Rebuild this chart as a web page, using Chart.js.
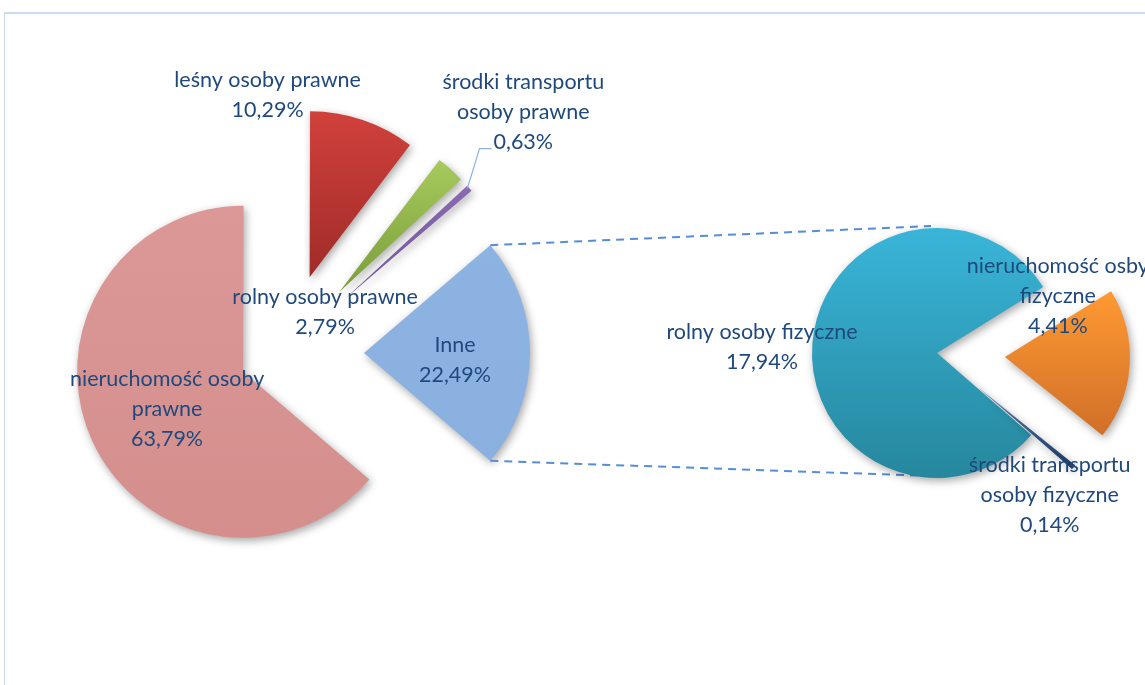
<!DOCTYPE html>
<html><head><meta charset="utf-8">
<script src="https://cdn.jsdelivr.net/npm/chart.js@4.4.0/dist/chart.umd.min.js"></script>
<style>
html,body{margin:0;padding:0;background:#fff;width:1145px;height:685px;overflow:hidden;}
#frame{position:absolute;left:4px;top:12px;width:1300px;height:800px;border-top:2px solid #C9DCF2;border-left:1px solid #CDD7E3;}
canvas{position:absolute;left:0;top:0;}
</style></head><body>
<div id="frame"></div>
<canvas id="leftPie" width="1145" height="685"></canvas>
<canvas id="rightPie" width="1145" height="685"></canvas>
<script>
// ---- data ----
const mainCategories = ["nieruchomość osoby\nprawne", "leśny osoby prawne", "rolny osoby prawne", "środki transportu\nosoby prawne", "Inne"];
const mainValues = [63.79, 10.29, 2.79, 0.63, 22.49];
const subCategories = ["rolny osoby fizyczne", "nieruchomość osby\nfizyczne", "środki transportu\nosoby fizyczne"];
const subValues = [17.94, 4.41, 0.14];

// ---- styles ----
const mainColors = [["#DB9896", "#D48F8D"], ["#D1413C", "#A02B28"], ["#A6CA5C", "#7A9E3A"], ["#8A6BB2", "#6F529A"], ["#8DB3E2", "#8AB0DF"]];
const subColors = [["#39B5D9", "#26879D"], ["#FF9933", "#D06F28"], ["#5A7DAD", "#1A3860"]];
const mainExplode = [45, 80, 82, 82, 80];
const subExplode = [0, 68, 53];
const mainLabelNudge = [[-76, 37], [-42, -182], [-14, 20], [178, -186], [91, 7]];
const subLabelNudge = [[-175, -6], [53, -61], [72, 108]];
const LABEL_FONT = "21.5px Lato";
const LABEL_COLOR = "#1F497D";
const LINE_H = 30;

const fmt = v => v.toFixed(2).replace('.', ',') + '%';

const explodePlugin = {
  id: 'explode',
  afterDatasetUpdate(chart, args) {
    const cfg = chart.options.plugins.explode;
    const ctx = chart.ctx;
    args.meta.data.forEach((arc, i) => {
      const d = cfg.distances[i] || 0;
      const mid = (arc.startAngle + arc.endAngle) / 2;
      arc.x = arc.x + Math.cos(mid) * d;
      arc.y = arc.y + Math.sin(mid) * d;
      let ymin = arc.y, ymax = arc.y;
      for (let k = 0; k <= 40; k++) {
        const a = arc.startAngle + (arc.endAngle - arc.startAngle) * k / 40;
        const yy = arc.y + Math.sin(a) * arc.outerRadius;
        ymin = Math.min(ymin, yy); ymax = Math.max(ymax, yy);
      }
      const g = ctx.createLinearGradient(0, ymin, 0, ymax);
      g.addColorStop(0, cfg.colors[i][0]);
      g.addColorStop(1, cfg.colors[i][1]);
      arc.options = Object.assign({}, arc.options, {backgroundColor: g});
    });
  }
};

const shadowPlugin = {
  id: 'softShadow',
  beforeDatasetsDraw(chart) {
    const ctx = chart.ctx;
    ctx.save();
    ctx.shadowColor = 'rgba(0,0,0,0.35)';
    ctx.shadowBlur = 8;
    ctx.shadowOffsetX = 2;
    ctx.shadowOffsetY = 3;
  },
  afterDatasetsDraw(chart) { chart.ctx.restore(); }
};

function drawLabels(chart, cats, vals, nudges) {
  const ctx = chart.ctx;
  const arcs = chart.getDatasetMeta(0).data;
  const out = [];
  ctx.save();
  ctx.font = LABEL_FONT;
  ctx.fillStyle = LABEL_COLOR;
  ctx.textAlign = 'center';
  ctx.textBaseline = 'middle';
  arcs.forEach((arc, i) => {
    const lines = cats[i].split('\n').concat([fmt(vals[i])]);
    const cx = arc.x + nudges[i][0];
    const cy = arc.y + nudges[i][1];
    const y0 = cy - (lines.length - 1) * LINE_H / 2;
    lines.forEach((t, j) => ctx.fillText(t, cx, y0 + j * LINE_H));
    out.push({cx, y0, lines, w: lines.map(t => ctx.measureText(t).width)});
  });
  ctx.restore();
  return out;
}

const mainTotal = mainValues.reduce((a, b) => a + b, 0);
const beforeOther = mainValues.slice(0, 4).reduce((a, b) => a + b, 0);
const mainRotation = 90 - (beforeOther + mainValues[4] / 2) / mainTotal * 360;

const leftLabels = {
  id: 'leftLabels',
  afterDraw(chart) {
    const info = drawLabels(chart, mainCategories, mainValues, mainLabelNudge);
    const arc = chart.getDatasetMeta(0).data[3];
    const mid = (arc.startAngle + arc.endAngle) / 2;
    const tx = arc.x + Math.cos(mid) * arc.outerRadius;
    const ty = arc.y + Math.sin(mid) * arc.outerRadius;
    const L = info[3];
    const last = L.lines.length - 1;
    const left = L.cx - L.w[last] / 2;
    const ly = L.y0 + last * LINE_H + 6;
    const ctx = chart.ctx;
    ctx.save();
    ctx.strokeStyle = '#8DB3E2';
    ctx.lineWidth = 1.2;
    ctx.beginPath();
    ctx.moveTo(tx - 2, ty);
    ctx.lineTo(left - 14, ly);
    ctx.lineTo(left - 2, ly);
    ctx.stroke();
    ctx.restore();
  }
};

const baseOpts = {
  responsive: false,
  animation: false,
  events: [],
};

const leftChart = new Chart(document.getElementById('leftPie'), {
  type: 'pie',
  data: {
    labels: mainCategories,
    datasets: [{data: mainValues, borderWidth: 0, radius: 166, clip: false, backgroundColor: mainColors.map(c => c[0])}]
  },
  options: Object.assign({}, baseOpts, {
    rotation: mainRotation,
    layout: {padding: {left: 0, right: 577, top: 21, bottom: 0}},
    plugins: {legend: {display: false}, tooltip: {enabled: false}, explode: {distances: mainExplode, colors: mainColors}}
  }),
  plugins: [explodePlugin, shadowPlugin, leftLabels]
});

const connectors = {
  id: 'connectors',
  beforeDatasetsDraw(chart) {
    const other = leftChart.getDatasetMeta(0).data[4];
    const me = chart.getDatasetMeta(0).data[0];
    const r = other.outerRadius;
    const p1 = [other.x + Math.cos(other.startAngle) * r, other.y + Math.sin(other.startAngle) * r];
    const p2 = [other.x + Math.cos(other.endAngle) * r, other.y + Math.sin(other.endAngle) * r];
    const top = [me.x, me.y - me.outerRadius];
    const bot = [me.x, me.y + me.outerRadius];
    const ctx = chart.ctx;
    ctx.save();
    ctx.strokeStyle = '#558ED5';
    ctx.lineWidth = 2;
    ctx.setLineDash([8, 6]);
    ctx.beginPath();
    ctx.moveTo(p1[0], p1[1]); ctx.lineTo(top[0] - 6, top[1] - 2);
    ctx.moveTo(p2[0], p2[1]); ctx.lineTo(bot[0] - 6, bot[1] - 2);
    ctx.stroke();
    ctx.restore();
  }
};

const rightLabels = {
  id: 'rightLabels',
  afterDraw(chart) { drawLabels(chart, subCategories, subValues, subLabelNudge); }
};

const rightChart = new Chart(document.getElementById('rightPie'), {
  type: 'pie',
  data: {
    labels: subCategories,
    datasets: [{data: subValues, borderWidth: 0, radius: 125, clip: false, backgroundColor: subColors.map(c => c[0])}]
  },
  options: Object.assign({}, baseOpts, {
    rotation: 131,
    layout: {padding: {left: 729, right: 0, top: 21, bottom: 0}},
    plugins: {legend: {display: false}, tooltip: {enabled: false}, explode: {distances: subExplode, colors: subColors}}
  }),
  plugins: [connectors, explodePlugin, shadowPlugin, rightLabels]
});
</script>
</body></html>
